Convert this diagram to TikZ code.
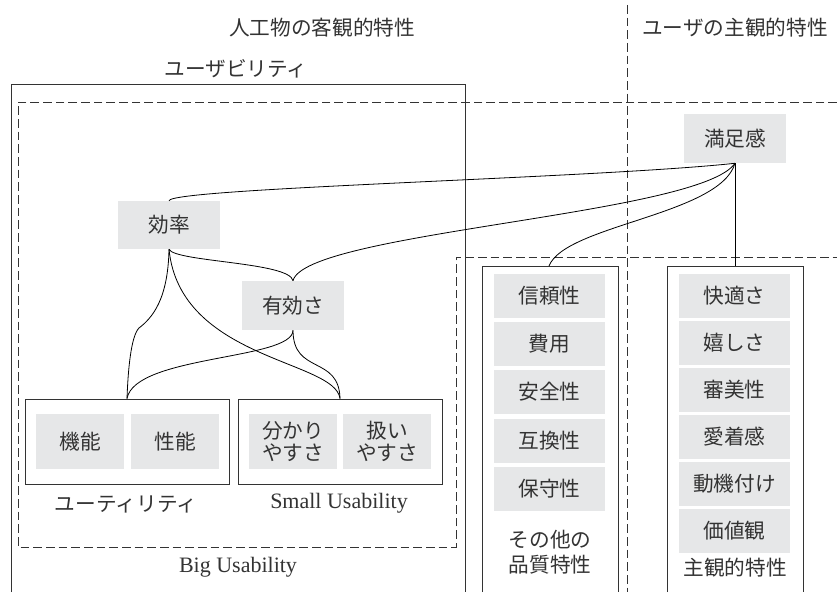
\documentclass[tikz,border=0pt]{standalone}
\usepackage{fontspec}
\newfontfamily\jp{Noto Sans CJK JP}
\newfontfamily\lat{Liberation Serif}
\definecolor{boxgray}{HTML}{E6E7E8}
\definecolor{ink}{HTML}{333333}
\begin{document}
\begin{tikzpicture}[x=0.75pt,y=-0.75pt,
  every node/.style={font=\jp\fontsize{15.5}{18}\selectfont, text=ink},
  gbox/.style 2 args={fill=boxgray, inner sep=0pt, minimum width=#1*0.75pt, minimum height=#2*0.75pt},
  frame/.style={draw=ink, line width=0.7pt},
  fbox/.style 2 args={draw=ink, line width=0.7pt, inner sep=0pt, minimum width=#1*0.75pt, minimum height=#2*0.75pt},
  dline/.style={draw=ink, line width=0.6pt, dash pattern=on 6.5pt off 3pt},
  conn/.style={draw=black, line width=0.6pt},
  lbl/.style={inner sep=0pt}]
\useasboundingbox (0,0) rectangle (837,592);

% titles
\node[lbl] (t1) at (322,28) {人工物の客観的特性};
\node[lbl] (t2) at (735,28) {ユーザの主観的特性};
\node[lbl] (t3) at (236,69) {ユーザビリティ};

% outer frames
\draw[frame] (11,592) -- (11,84) -- (465,84) -- (465,592);
\draw[frame] (482,592) -- (482,266) -- (618,266) -- (618,592);
\draw[frame] (667,592) -- (667,266) -- (803,266) -- (803,592);
\coordinate (oq) at (549,266);
\coordinate (sb) at (735,266);

% dashed lines
\draw[dline] (627,5) -- (627,592);
\draw[dline] (837,102) -- (18,102) -- (18,547) -- (456,547) -- (456,257) -- (837,257);

% boxes
\node[gbox={102}{48}] (eff) at (169,225) {効率};
\node[gbox={102}{49}] (yuk) at (293,305.5) {有効さ};
\node[gbox={102}{49}] (man) at (735,138.5) {満足感};

\node[fbox={204}{85}] (util) at (127,441.5) {};
\node[fbox={204}{85}] (small) at (340,441.5) {};
\node[gbox={88}{55}] (kino) at (80,441.5) {機能};
\node[gbox={88}{55}] (seino) at (175,441.5) {性能};
\node[gbox={88}{55}, align=center, font=\jp\fontsize{15.5}{16}\selectfont] (wak) at (293,441.5) {分かり\\やすさ};
\node[gbox={88}{55}, align=center, font=\jp\fontsize{15.5}{16}\selectfont] (ats) at (387,441.5) {扱い\\やすさ};

\node[lbl] (lutil) at (126,504) {ユーティリティ};
\node[lbl, font=\lat\fontsize{16.5}{18}\selectfont] (lsmall) at (339,503) {Small Usability};
\node[lbl, font=\lat\fontsize{16.5}{18}\selectfont] (lbig) at (238,567) {Big Usability};

% other quality
\node[gbox={111}{44}] (q1) at (549.5,296) {信頼性};
\node[gbox={111}{44}] (q2) at (549.5,344) {費用};
\node[gbox={111}{44}] (q3) at (549.5,391.5) {安全性};
\node[gbox={111}{44}] (q4) at (549.5,441) {互換性};
\node[gbox={111}{44}] (q5) at (549.5,489) {保守性};
\node[lbl, align=center, font=\jp\fontsize{15.5}{18.5}\selectfont] (lq) at (550,552) {その他の\\品質特性};

% subjective
\node[gbox={111}{44}] (s1) at (734.5,296) {快適さ};
\node[gbox={111}{44}] (s2) at (734.5,342.5) {嬉しさ};
\node[gbox={111}{44}] (s3) at (734.5,390) {審美性};
\node[gbox={111}{44}] (s4) at (734.5,436.5) {愛着感};
\node[gbox={111}{44}] (s5) at (734.5,484) {動機付け};
\node[gbox={111}{44}] (s6) at (734.5,531) {価値観};
\node[lbl] (ls) at (735,568) {主観的特性};

% connectors
\draw[conn] (eff.north) .. controls (171,188) and (600,178) .. (man.south);
\draw[conn] (yuk.north) .. controls (305,232) and (700,215) .. (man.south);
\draw[conn] (oq) .. controls (565,225) and (720,215) .. (man.south);
\draw[conn] (man.south) -- (sb);

\draw[conn] (eff.south) .. controls (175,262) and (290,262) .. (yuk.north);
\draw[conn] (eff.south) .. controls (168,300) and (152,318) .. (139,328) .. controls (131,336) and (128,370) .. (util.north);
\draw[conn] (eff.south) .. controls (180,360) and (335,360) .. (small.north);
\draw[conn] (yuk.south) .. controls (293,360) and (135,355) .. (util.north);
\draw[conn] (yuk.south) .. controls (293,375) and (339,355) .. (small.north);
\end{tikzpicture}
\end{document}
